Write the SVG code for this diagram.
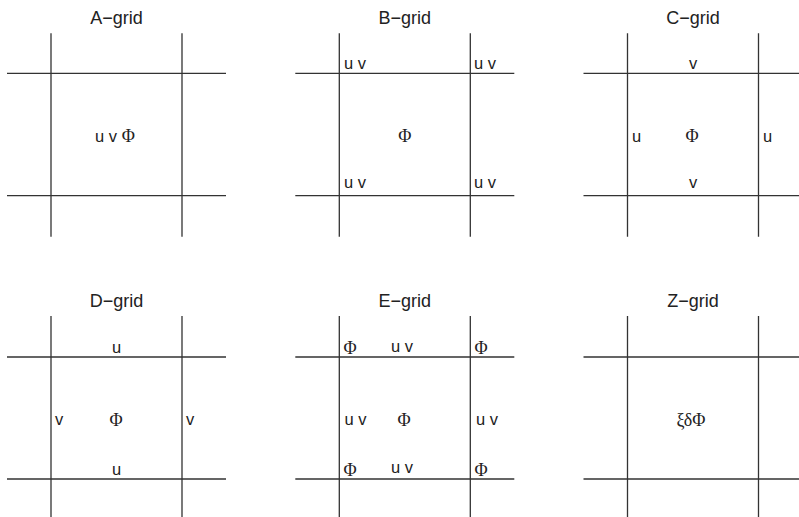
<svg xmlns="http://www.w3.org/2000/svg" width="799" height="517" viewBox="0 0 799 517">
<style>
.bg{fill:#fff}
.ln{stroke:#333;stroke-width:1.3;fill:none}
.t{font-family:"Liberation Sans",Arial,sans-serif;font-size:16.5px;fill:#222}
.ti{font-family:"Liberation Sans",Arial,sans-serif;font-size:18px;fill:#222;text-anchor:middle}
.s{font-family:"Liberation Serif","Times New Roman",serif;font-size:18px;fill:#222}
.m{text-anchor:middle}
</style>
<rect class="bg" width="799" height="517"/>
<g id="grid-lines">
<path class="ln" d="M51,33.3V236.7M182,33.3V236.7M7,73.3H226M7,195.7H226"/>
<path class="ln" d="M339.3,33.3V236.7M470.3,33.3V236.7M295.3,73.3H514.3M295.3,195.7H514.3"/>
<path class="ln" d="M627.5,33.3V236.7M758.5,33.3V236.7M583.5,73.3H799M583.5,195.7H799"/>
<path class="ln" d="M51,316V517M182,316V517M7,357H226M7,479H226"/>
<path class="ln" d="M339.3,316V517M470.3,316V517M295.3,357H514.3M295.3,479H514.3"/>
<path class="ln" d="M627.5,316V517M758.5,316V517M583.5,357H799M583.5,479H799"/>
</g>
<g id="A-grid">
<text class="ti" x="116.5" y="23.5">A−grid</text>
<text class="t m" x="115" y="141.5">u v <tspan class="s">Φ</tspan></text>
</g>
<g id="B-grid">
<text class="ti" x="404.8" y="23.5">B−grid</text>
<text class="t" x="344" y="69.3">u v</text>
<text class="t" x="474" y="69.3">u v</text>
<text class="t" x="344" y="187.7">u v</text>
<text class="t" x="474" y="187.7">u v</text>
<text class="s m" x="404.8" y="142">Φ</text>
</g>
<g id="C-grid">
<text class="ti" x="693" y="23.5">C−grid</text>
<text class="t m" x="693" y="69.3">v</text>
<text class="t m" x="693" y="187.7">v</text>
<text class="t" x="632" y="141.5">u</text>
<text class="t" x="763" y="141.5">u</text>
<text class="s m" x="692" y="142">Φ</text>
</g>
<g id="D-grid">
<text class="ti" x="116.5" y="306.5">D−grid</text>
<text class="t m" x="116.5" y="353">u</text>
<text class="t m" x="116.5" y="475">u</text>
<text class="t" x="55" y="425">v</text>
<text class="t" x="186" y="425">v</text>
<text class="s m" x="116" y="425.5">Φ</text>
</g>
<g id="E-grid">
<text class="ti" x="404.8" y="306.5">E−grid</text>
<text class="s" x="343.5" y="353.5">Φ</text>
<text class="t" x="391" y="352">u v</text>
<text class="s" x="474.5" y="353.5">Φ</text>
<text class="t" x="344.5" y="425">u v</text>
<text class="s" x="397.5" y="425.5">Φ</text>
<text class="t" x="476" y="425">u v</text>
<text class="s" x="343.5" y="476">Φ</text>
<text class="t" x="391" y="473">u v</text>
<text class="s" x="474.5" y="476">Φ</text>
</g>
<g id="Z-grid">
<text class="ti" x="693" y="306.5">Z−grid</text>
<text class="s m" x="691" y="425.5">ξδΦ</text>
</g>
</svg>
